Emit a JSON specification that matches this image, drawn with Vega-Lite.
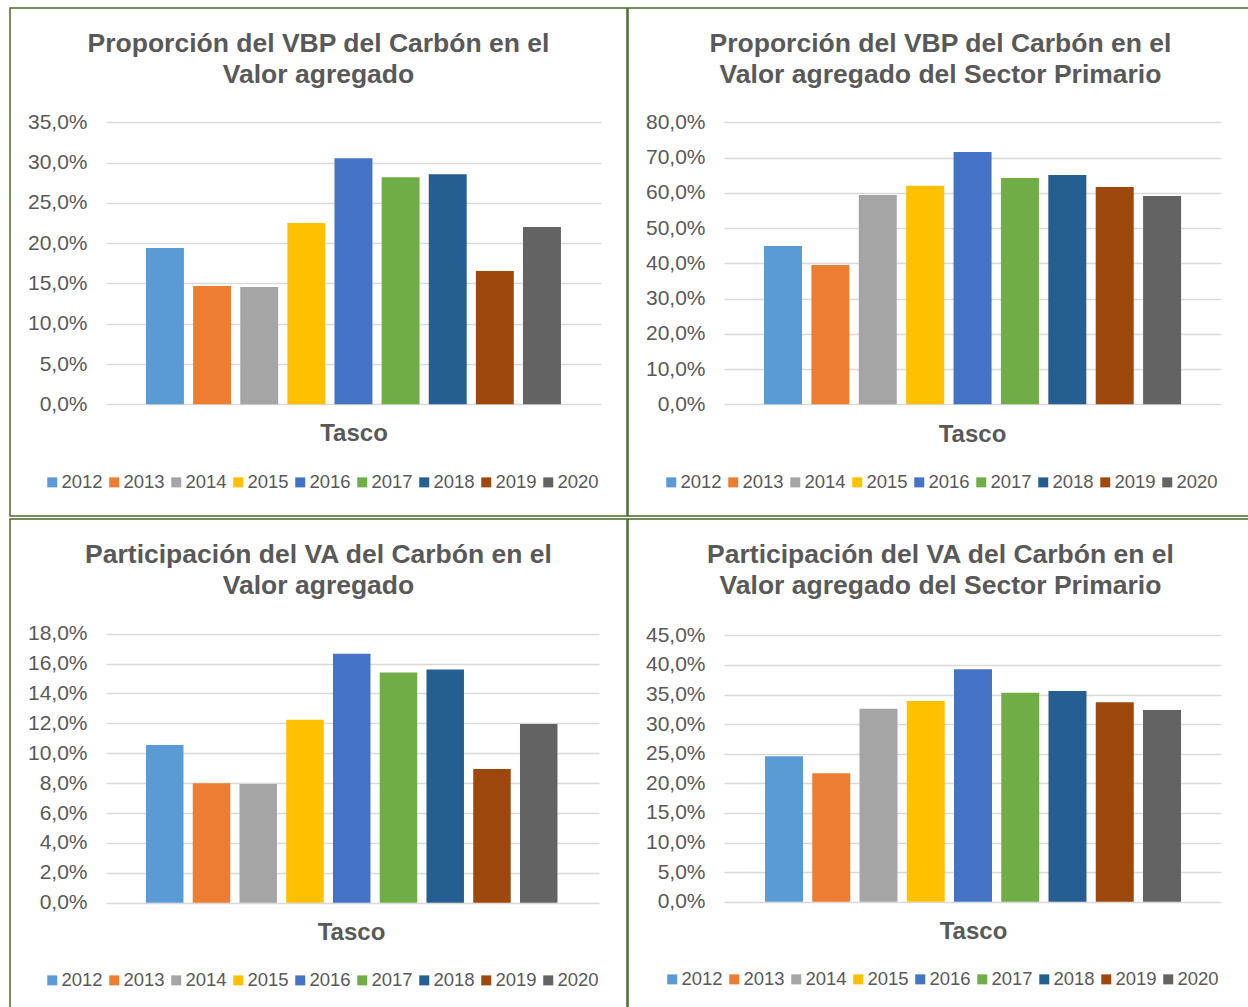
{
  "$schema": "https://vega.github.io/schema/vega-lite/v6.json",
  "padding": {"left": 9, "top": 7, "right": 0, "bottom": 0},
  "columns": 2,
  "spacing": {"row": 3, "column": 1},
  "bounds": "flush",
  "resolve": {"scale": {"color": "independent"}, "legend": {"color": "independent"}},
  "config": {
    "font": "Liberation Sans",
    "locale": {"number": {"decimal": ",", "thousands": ".", "grouping": [3], "currency": ["", " €"]}},
    "view": {"stroke": "#4a6a2a", "strokeWidth": 1.5},
    "axisY": {"format": ".1%", "labelFontSize": 21, "labelColor": "#595959", "domain": false, "grid": false, "tickColor": "#d9d9d9", "tickWidth": 1.5},
    "axisX": {"labels": false, "ticks": false, "domain": false, "grid": false, "titleFontSize": 24, "titleFontWeight": "bold", "titleColor": "#595959", "titleBaseline": "middle"},
    "title": {"fontSize": 26.5, "fontWeight": "bold", "color": "#595959", "anchor": "middle", "frame": "group", "lineHeight": 31},
    "legend": {"orient": "none", "direction": "horizontal", "columns": 9, "symbolType": "square", "symbolSize": 100, "symbolStrokeWidth": 0, "labelFontSize": 18.5, "labelColor": "#595959", "labelOffset": 0, "columnPadding": 2, "padding": 0}
  },
  "concat": [
    {
      "width": 617, "height": 508,
      "title": {"text": ["Proporción del VBP del Carbón en el", "Valor agregado"], "offset": -80},
      "data": {"values": [
        {"year": "2012", "value": 0.194}, {"year": "2013", "value": 0.147}, {"year": "2014", "value": 0.1455},
        {"year": "2015", "value": 0.225}, {"year": "2016", "value": 0.3055}, {"year": "2017", "value": 0.282},
        {"year": "2018", "value": 0.2855}, {"year": "2019", "value": 0.1655}, {"year": "2020", "value": 0.22}
      ]},
      "mark": {"type": "bar"},
      "encoding": {
        "x": {"field": "year", "type": "nominal", "scale": {"domain": [" ", "  ", "2012","2013","2014","2015","2016","2017","2018","2019","2020", "   "], "paddingInner": 0.195, "paddingOuter": 0.644, "align": 0.688}, "axis": {"title": "Tasco", "titleX": 343.5, "titleY": -83}},
        "y": {"field": "value", "type": "quantitative", "scale": {"domain": [-0.1387, 0.492], "nice": false}, "axis": {"title": null, "values": [0, 0.05, 0.1, 0.15, 0.2, 0.25, 0.3, 0.35], "offset": -96, "tickSize": -495, "labelPadding": 514}},
        "color": {"field": "year", "type": "nominal", "scale": {"domain": ["2012","2013","2014","2015","2016","2017","2018","2019","2020"], "range": ["#5b9bd5","#ed7d31","#a5a5a5","#ffc000","#4472c4","#70ad47","#255e91","#9e480e","#636363"]}, "legend": {"title": null, "legendX": 33, "legendY": 465}}
      }
    },
    {
      "width": 625, "height": 508,
      "title": {"text": ["Proporción del VBP del Carbón en el", "Valor agregado del Sector Primario"], "offset": -80},
      "data": {"values": [
        {"year": "2012", "value": 0.449}, {"year": "2013", "value": 0.395}, {"year": "2014", "value": 0.594},
        {"year": "2015", "value": 0.62}, {"year": "2016", "value": 0.716}, {"year": "2017", "value": 0.642},
        {"year": "2018", "value": 0.651}, {"year": "2019", "value": 0.617}, {"year": "2020", "value": 0.591}
      ]},
      "mark": {"type": "bar"},
      "encoding": {
        "x": {"field": "year", "type": "nominal", "scale": {"domain": [" ", "  ", "2012","2013","2014","2015","2016","2017","2018","2019","2020", "   "], "paddingInner": 0.198, "paddingOuter": 0.694, "align": 0.627}, "axis": {"title": "Tasco", "titleX": 344, "titleY": -82}},
        "y": {"field": "value", "type": "quantitative", "scale": {"domain": [-0.3171, 1.1247], "nice": false}, "axis": {"title": null, "values": [0, 0.1, 0.2, 0.3, 0.4, 0.5, 0.6, 0.7, 0.8], "offset": -96, "tickSize": -497, "labelPadding": 516}},
        "color": {"field": "year", "type": "nominal", "scale": {"domain": ["2012","2013","2014","2015","2016","2017","2018","2019","2020"], "range": ["#5b9bd5","#ed7d31","#a5a5a5","#ffc000","#4472c4","#70ad47","#255e91","#9e480e","#636363"]}, "legend": {"title": null, "legendX": 34, "legendY": 465}}
      }
    },
    {
      "width": 617, "height": 508,
      "title": {"text": ["Participación del VA del Carbón en el", "Valor agregado"], "offset": -80},
      "data": {"values": [
        {"year": "2012", "value": 0.1055}, {"year": "2013", "value": 0.08}, {"year": "2014", "value": 0.0795},
        {"year": "2015", "value": 0.1225}, {"year": "2016", "value": 0.1665}, {"year": "2017", "value": 0.154},
        {"year": "2018", "value": 0.156}, {"year": "2019", "value": 0.0895}, {"year": "2020", "value": 0.1195}
      ]},
      "mark": {"type": "bar"},
      "encoding": {
        "x": {"field": "year", "type": "nominal", "scale": {"domain": [" ", "  ", "2012","2013","2014","2015","2016","2017","2018","2019","2020", "   "], "paddingInner": 0.198, "paddingOuter": 0.698, "align": 0.651}, "axis": {"title": "Tasco", "titleX": 341, "titleY": -95}},
        "y": {"field": "value", "type": "quantitative", "scale": {"domain": [-0.0831, 0.2567], "nice": false}, "axis": {"title": null, "values": [0, 0.02, 0.04, 0.06, 0.08, 0.1, 0.12, 0.14, 0.16, 0.18], "offset": -96, "tickSize": -493, "labelPadding": 512}},
        "color": {"field": "year", "type": "nominal", "scale": {"domain": ["2012","2013","2014","2015","2016","2017","2018","2019","2020"], "range": ["#5b9bd5","#ed7d31","#a5a5a5","#ffc000","#4472c4","#70ad47","#255e91","#9e480e","#636363"]}, "legend": {"title": null, "legendX": 33, "legendY": 452}}
      }
    },
    {
      "width": 625, "height": 508,
      "title": {"text": ["Participación del VA del Carbón en el", "Valor agregado del Sector Primario"], "offset": -80},
      "data": {"values": [
        {"year": "2012", "value": 0.246}, {"year": "2013", "value": 0.217}, {"year": "2014", "value": 0.326},
        {"year": "2015", "value": 0.339}, {"year": "2016", "value": 0.393}, {"year": "2017", "value": 0.353},
        {"year": "2018", "value": 0.356}, {"year": "2019", "value": 0.337}, {"year": "2020", "value": 0.324}
      ]},
      "mark": {"type": "bar"},
      "encoding": {
        "x": {"field": "year", "type": "nominal", "scale": {"domain": [" ", "  ", "2012","2013","2014","2015","2016","2017","2018","2019","2020", "   "], "paddingInner": 0.196, "paddingOuter": 0.712, "align": 0.632}, "axis": {"title": "Tasco", "titleX": 345, "titleY": -96}},
        "y": {"field": "value", "type": "quantitative", "scale": {"domain": [-0.2117, 0.6467], "nice": false}, "axis": {"title": null, "values": [0, 0.05, 0.1, 0.15, 0.2, 0.25, 0.3, 0.35, 0.4, 0.45], "offset": -96, "tickSize": -497, "labelPadding": 516}},
        "color": {"field": "year", "type": "nominal", "scale": {"domain": ["2012","2013","2014","2015","2016","2017","2018","2019","2020"], "range": ["#5b9bd5","#ed7d31","#a5a5a5","#ffc000","#4472c4","#70ad47","#255e91","#9e480e","#636363"]}, "legend": {"title": null, "legendX": 35, "legendY": 451}}
      }
    }
  ]
}
